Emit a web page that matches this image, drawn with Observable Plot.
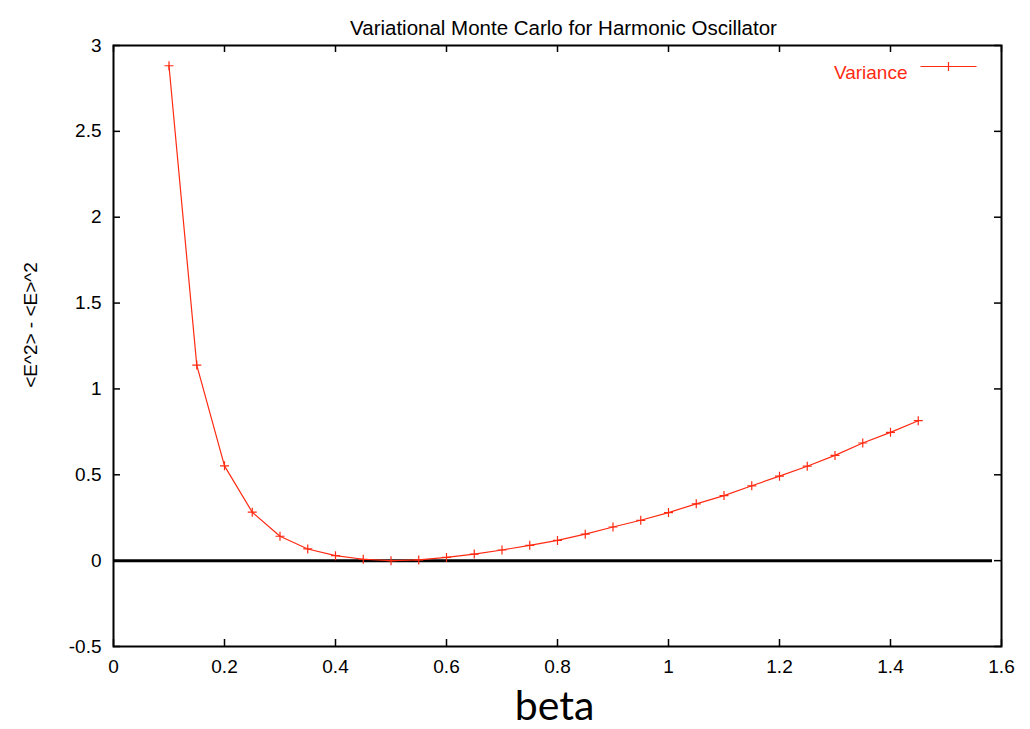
<!DOCTYPE html>
<html>
<head>
<meta charset="utf-8">
<script src="https://cdn.jsdelivr.net/npm/d3@7"></script>
<script src="https://cdn.jsdelivr.net/npm/@observablehq/plot@0.6"></script>
<style>
  html, body { margin: 0; padding: 0; background: #fff; }
  #chart { position: relative; width: 1030px; height: 729px; }
  #chart svg { display: block; font-family: Helvetica, "Liberation Sans", Arial, sans-serif; }
  #ylabel {
    position: absolute; left: 30px; top: 325px;
    transform: translate(-50%, -50%) rotate(-90deg);
    white-space: nowrap;
    font: 19px Helvetica, "Liberation Sans", Arial, sans-serif;
    color: #000; line-height: 1;
  }
</style>
</head>
<body>
<div id="chart"><div id="ylabel"></div></div>
<script>
const betas = [0.1, 0.15, 0.2, 0.25, 0.3, 0.35, 0.4, 0.45, 0.5, 0.55, 0.6, 0.65, 0.7, 0.75,
               0.8, 0.85, 0.9, 0.95, 1.0, 1.05, 1.1, 1.15, 1.2, 1.25, 1.3, 1.35, 1.4, 1.45];
const variance = [2.882, 1.139, 0.552, 0.282, 0.142, 0.068, 0.029, 0.008, 0.0, 0.004, 0.019, 0.038,
                  0.062, 0.089, 0.118, 0.154, 0.196, 0.235, 0.280, 0.331, 0.379, 0.436, 0.492,
                  0.550, 0.613, 0.685, 0.747, 0.815];
const xTicks = [0, 0.2, 0.4, 0.6, 0.8, 1, 1.2, 1.4, 1.6];
const yTicks = [-0.5, 0, 0.5, 1, 1.5, 2, 2.5, 3];
const title = "Variational Monte Carlo for Harmonic Oscillator";
const xLabel = "beta";
const yLabel = "<E^2> - <E>^2";
const seriesName = "Variance";

const data = betas.map((b, i) => ({beta: b, v: variance[i]}));
const red = "#ff2a12";

const W = 1030, H = 729;
const mt = 45, mb = 83, ml = 113, mr = 29;
const innerH = H - mt - mb;
const innerW = W - ml - mr;
const tick = 7;

const plusSymbol = {
  draw(ctx) {
    const r = 4.5;
    ctx.moveTo(-r, 0); ctx.lineTo(r, 0);
    ctx.moveTo(0, -r); ctx.lineTo(0, r);
  }
};
const legendSymbol = {
  draw(ctx) {
    const r = 4.5, L = 28;
    ctx.moveTo(-L, 0); ctx.lineTo(L, 0);
    ctx.moveTo(0, -r); ctx.lineTo(0, r);
  }
};

const chart = Plot.plot({
  width: W,
  height: H,
  marginTop: mt,
  marginBottom: mb,
  marginLeft: ml,
  marginRight: mr,
  style: {fontFamily: "Helvetica, 'Liberation Sans', Arial, sans-serif", background: "#fff"},
  x: {domain: [0, 1.6], ticks: xTicks},
  y: {domain: [-0.5, 3], ticks: yTicks},
  marks: [
    Plot.ruleY([0], {stroke: "#000", strokeWidth: 3, insetRight: 9}),
    Plot.ruleX(xTicks, {stroke: "#000", strokeWidth: 1.5, insetTop: innerH - tick}),
    Plot.ruleX(xTicks, {stroke: "#000", strokeWidth: 1.5, insetBottom: innerH - tick}),
    Plot.ruleY(yTicks, {stroke: "#000", strokeWidth: 1.5, insetRight: innerW - tick}),
    Plot.ruleY(yTicks, {stroke: "#000", strokeWidth: 1.5, insetLeft: innerW - tick}),
    Plot.frame({stroke: "#000", strokeWidth: 2}),
    Plot.axisX({ticks: xTicks, tickSize: 0, tickPadding: 13, fontSize: 19, label: null,
                tickFormat: d => String(d), color: "#000"}),
    Plot.axisY({ticks: yTicks, tickSize: 0, tickPadding: 12, fontSize: 19, label: null,
                tickFormat: d => String(d), color: "#000"}),
    Plot.line(data, {x: "beta", y: "v", stroke: red, strokeWidth: 1.2}),
    Plot.dot(data, {x: "beta", y: "v", symbol: plusSymbol, stroke: red, fill: "none", strokeWidth: 1.2}),
    Plot.text([seriesName], {frameAnchor: "top-right", dx: -94, dy: 20, textAnchor: "end",
                             fill: red, fontSize: 19}),
    Plot.dot([seriesName], {frameAnchor: "top-right", dx: -53, dy: 21, symbol: legendSymbol,
                            stroke: red, fill: "none", strokeWidth: 1.2}),
    Plot.text([title], {frameAnchor: "top", dx: 6, dy: -25, fontSize: 20.5, fill: "#000"}),
    Plot.text([xLabel], {frameAnchor: "bottom", dx: -3, dy: 73, fontSize: 41, fill: "#000",
                         fontFamily: "Lato, 'Open Sans', sans-serif"})
  ]
});
document.getElementById("chart").appendChild(chart);
document.getElementById("ylabel").textContent = yLabel;
</script>
</body>
</html>
